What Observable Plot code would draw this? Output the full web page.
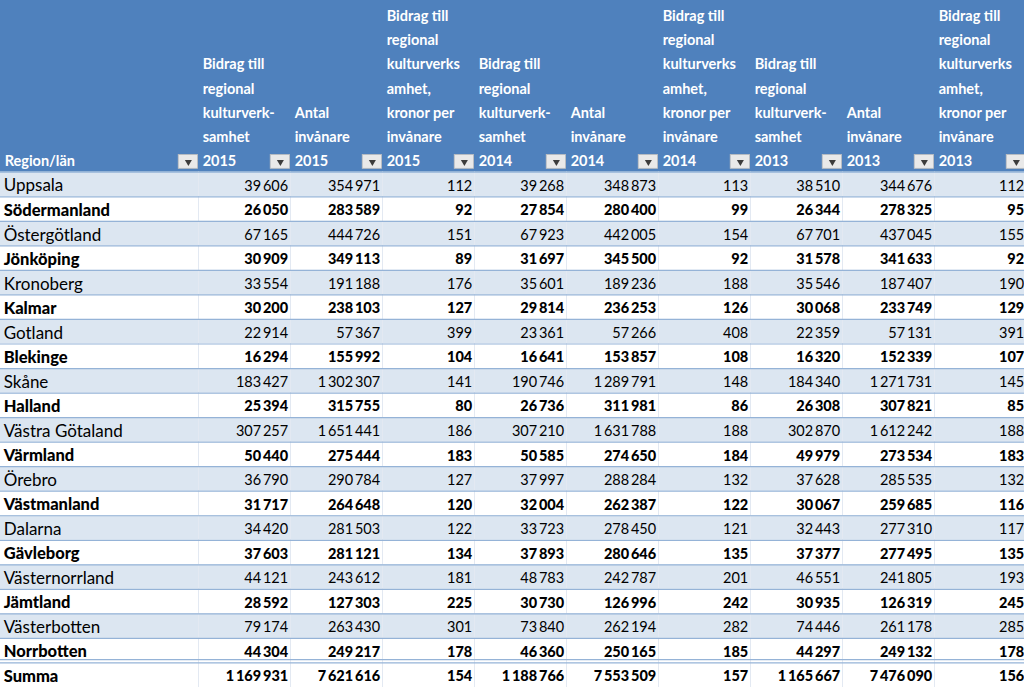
<!DOCTYPE html>
<html><head><meta charset="utf-8">
<script src="https://cdn.jsdelivr.net/npm/d3@7"></script>
<script src="https://cdn.jsdelivr.net/npm/@observablehq/plot@0.6"></script>
<style>html,body{margin:0;padding:0;background:#fff;overflow:hidden}</style>
</head><body><div id="chart"></div>
<script>
// ---------- DATA ----------
const regions = ["Uppsala","Södermanland","Östergötland","Jönköping","Kronoberg","Kalmar","Gotland","Blekinge","Skåne","Halland","Västra Götaland","Värmland","Örebro","Västmanland","Dalarna","Gävleborg","Västernorrland","Jämtland","Västerbotten","Norrbotten","Summa"];
const bidrag2015 = [39606,26050,67165,30909,33554,30200,22914,16294,183427,25394,307257,50440,36790,31717,34420,37603,44121,28592,79174,44304,1169931];
const invanare2015 = [354971,283589,444726,349113,191188,238103,57367,155992,1302307,315755,1651441,275444,290784,264648,281503,281121,243612,127303,263430,249217,7621616];
const perInv2015 = [112,92,151,89,176,127,399,104,141,80,186,183,127,120,122,134,181,225,301,178,154];
const bidrag2014 = [39268,27854,67923,31697,35601,29814,23361,16641,190746,26736,307210,50585,37997,32004,33723,37893,48783,30730,73840,46360,1188766];
const invanare2014 = [348873,280400,442005,345500,189236,236253,57266,153857,1289791,311981,1631788,274650,288284,262387,278450,280646,242787,126996,262194,250165,7553509];
const perInv2014 = [113,99,154,92,188,126,408,108,148,86,188,184,132,122,121,135,201,242,282,185,157];
const bidrag2013 = [38510,26344,67701,31578,35546,30068,22359,16320,184340,26308,302870,49979,37628,30067,32443,37377,46551,30935,74446,44297,1165667];
const invanare2013 = [344676,278325,437045,341633,187407,233749,57131,152339,1271731,307821,1612242,273534,285535,259685,277310,277495,241805,126319,261178,249132,7476090];
const perInv2013 = [112,95,155,92,190,129,391,107,145,85,188,183,132,116,117,135,193,245,285,178,156];

const headerRegion = ["Region/län"];
const headerBidrag = ["Bidrag till","regional","kulturverk-","samhet"];
const headerAntal = ["Antal","invånare"];
const headerPerInv = ["Bidrag till","regional","kulturverks","amhet,","kronor per","invånare"];
const years = ["2015","2014","2013"];

// ---------- LAYOUT ----------
const W = 1024, H = 687;
const unitPx = 92;                 // width of a number column
const firstColUnits = 198 / unitPx;
const headerRows = 7;
const totalRows = headerRows + regions.length;
const valueCols = [bidrag2015, invanare2015, perInv2015, bidrag2014, invanare2014, perInv2014, bidrag2013, invanare2013, perInv2013];
const nCols = 1 + valueCols.length;
const colLeft = j => j === 0 ? 0 : firstColUnits + (j - 1);
const colRight = j => firstColUnits + j;
const xMax = W / unitPx;

// header label table
const headerCols = [headerRegion];
years.forEach(y => {
  headerCols.push([...headerBidrag, y]);
  headerCols.push([...headerAntal, y]);
  headerCols.push([...headerPerInv, y]);
});
const headerText = [];
headerCols.forEach((lines, j) => {
  const n = lines.length;
  lines.forEach((t, k) => headerText.push({col: j, fromBottom: n - 1 - k, text: t}));
});

// body cells
const fmt = d3.formatLocale({decimal: ",", thousands: "\u2009", grouping: [3]}).format(",d");
const lastRow = regions.length - 1;
const isBold = i => i % 2 === 1 || i === lastRow;
const rowsData = regions.map((r, i) => ({i, name: r}));
const cells = [];
regions.forEach((r, i) => valueCols.forEach((arr, c) => cells.push({i, col: c + 1, text: fmt(arr[i])})));
const cols = d3.range(nCols);

const font = "Lato, 'Open Sans', sans-serif";
const rowY = d => headerRows + d.i + 0.56;

const chart = Plot.plot({
  width: W, height: H, margin: 0,
  style: {fontFamily: font, background: "white"},
  x: {domain: [0, xMax], range: [0, W], axis: null},
  y: {domain: [0, totalRows], range: [0, H], axis: null},
  marks: [
    // header background
    Plot.rect(cols, {x1: j => colLeft(j), x2: j => colRight(j), y1: 0, y2: headerRows, fill: "#4F81BD"}),
    // row backgrounds
    Plot.rect(rowsData, {x1: 0, x2: colRight(nCols - 1), y1: d => headerRows + d.i, y2: d => headerRows + d.i + 1,
      fill: d => (d.i % 2 === 0 && d.i !== lastRow) ? "#DCE6F1" : "#FFFFFF"}),
    // vertical separators in body
    Plot.ruleX(cols.slice(1), {x: j => colLeft(j), y1: headerRows, y2: totalRows, stroke: "#E3E9F2", strokeWidth: 1}),
    // horizontal row borders
    Plot.ruleY(d3.range(headerRows, totalRows + 1), {y: d => d, stroke: "#95B3D7", strokeWidth: 1.2}),
    Plot.ruleY([headerRows + lastRow], {y: d => d - 0.14, stroke: "#95B3D7", strokeWidth: 1.2}),
    // header text
    Plot.text(headerText, {x: d => colLeft(d.col) + 0.045, y: d => 6.55 - d.fromBottom * 0.982, text: "text",
      textAnchor: "start", fill: "white", fontWeight: "bold", fontSize: 14.5}),
    // filter buttons
    Plot.rect(cols, {x1: j => colRight(j) - 0.215, x2: j => colRight(j) - 0.005, y1: 6.3, y2: 6.86,
      fill: "#E9E9E9", stroke: "#BFBFBF", strokeWidth: 0.8}),
    Plot.dot(cols, {x: j => colRight(j) - 0.11, y: 6.58, symbol: "triangle", rotate: 180, r: 2.6, fill: "#3C3C3C", stroke: "none"}),
    // region names
    Plot.text(rowsData.filter(d => !isBold(d.i)), {x: 0.035, y: rowY, text: "name", textAnchor: "start",
      fill: "black", fontSize: 17}),
    Plot.text(rowsData.filter(d => isBold(d.i)), {x: 0.035, y: rowY, text: "name", textAnchor: "start",
      fill: "black", fontSize: 16.5, fontWeight: "900", letterSpacing: "-0.2px"}),
    // values
    Plot.text(cells.filter(d => !isBold(d.i)), {x: d => colRight(d.col) - 0.025, y: rowY, text: "text", textAnchor: "end",
      fill: "black", fontSize: 14.5}),
    Plot.text(cells.filter(d => isBold(d.i)), {x: d => colRight(d.col) - 0.025, y: rowY, text: "text", textAnchor: "end",
      fill: "black", fontSize: 14.5, fontWeight: "900", letterSpacing: "-0.4px"})
  ]
});
document.getElementById("chart").appendChild(chart);
</script>
</body></html>
